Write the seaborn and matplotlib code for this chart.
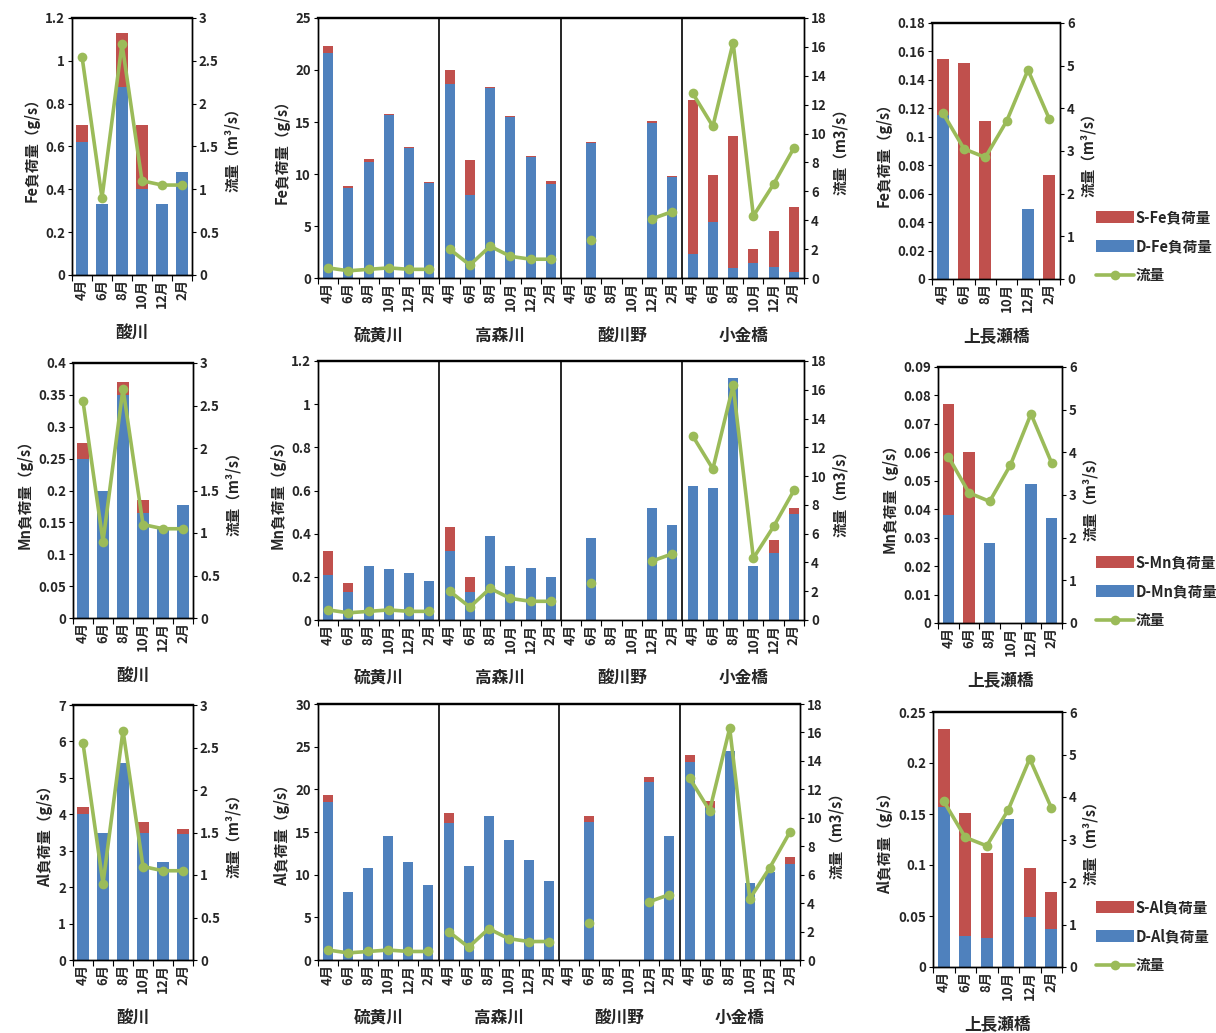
import numpy as np
import pandas as pd
import matplotlib
matplotlib.use("Agg")
import matplotlib.pyplot as plt
import seaborn as sns
from matplotlib.ticker import FuncFormatter
from matplotlib.patches import Patch
from matplotlib.lines import Line2D

sns.set_theme(style="white")
plt.rcParams['font.family'] = ['Noto Sans CJK JP', 'DejaVu Sans']
plt.rcParams['axes.unicode_minus'] = False

# ---------------- data ----------------
months = ["4月", "6月", "8月", "10月", "12月", "2月"]
mid_rivers = ["硫黄川", "高森川", "酸川野", "小金橋"]
left_site = "酸川"
right_site = "上長瀬橋"

nan = np.nan
q_sukawa = [2.55, 0.90, 2.70, 1.10, 1.05, 1.05]
q_mid = [0.7, 0.5, 0.6, 0.7, 0.6, 0.6,
         2.0, 0.9, 2.2, 1.5, 1.3, 1.3,
         nan, 2.6, nan, nan, 4.1, 4.6,
         12.8, 10.5, 16.3, 4.3, 6.5, 9.0]
q_kami = [3.9, 3.05, 2.85, 3.7, 4.9, 3.75]

fe_sukawa_d = [0.62, 0.33, 0.88, 0.40, 0.33, 0.48]
fe_sukawa_s = [0.08, 0.00, 0.25, 0.30, 0.00, 0.00]
fe_mid_d = [21.6, 8.7, 11.2, 15.7, 12.5, 9.1,
            18.7, 8.0, 18.3, 15.5, 11.6, 9.0,
            0.0, 13.0, 0.0, 0.0, 14.9, 9.7,
            2.3, 5.4, 1.0, 1.4, 1.1, 0.6]
fe_mid_s = [0.7, 0.1, 0.2, 0.1, 0.1, 0.1,
            1.3, 3.3, 0.1, 0.1, 0.1, 0.3,
            0.0, 0.1, 0.0, 0.0, 0.2, 0.1,
            14.8, 4.5, 12.7, 1.4, 3.4, 6.2]
fe_kami_d = [0.115, 0.0, 0.0, 0.0, 0.049, 0.0]
fe_kami_s = [0.040, 0.152, 0.111, 0.0, 0.0, 0.073]

mn_sukawa_d = [0.25, 0.20, 0.35, 0.165, 0.14, 0.177]
mn_sukawa_s = [0.025, 0.0, 0.02, 0.02, 0.0, 0.0]
mn_mid_d = [0.21, 0.13, 0.25, 0.235, 0.22, 0.18,
            0.32, 0.13, 0.39, 0.25, 0.24, 0.20,
            0.0, 0.38, 0.0, 0.0, 0.52, 0.44,
            0.62, 0.61, 1.12, 0.25, 0.31, 0.49]
mn_mid_s = [0.11, 0.04, 0.0, 0.0, 0.0, 0.0,
            0.11, 0.07, 0.0, 0.0, 0.0, 0.0,
            0.0, 0.0, 0.0, 0.0, 0.0, 0.0,
            0.0, 0.0, 0.0, 0.0, 0.06, 0.03]
mn_kami_d = [0.038, 0.0, 0.028, 0.0, 0.049, 0.037]
mn_kami_s = [0.039, 0.060, 0.0, 0.0, 0.0, 0.0]

al_sukawa_d = [4.0, 3.5, 5.4, 3.5, 2.7, 3.45]
al_sukawa_s = [0.2, 0.0, 0.0, 0.3, 0.0, 0.15]
al_mid_d = [18.5, 8.0, 10.8, 14.5, 11.5, 8.8,
            16.0, 11.0, 16.9, 14.1, 11.7, 9.2,
            0.0, 16.2, 0.0, 0.0, 20.9, 14.5,
            23.2, 17.8, 24.5, 9.0, 10.3, 11.2]
al_mid_s = [0.8, 0.0, 0.0, 0.0, 0.0, 0.0,
            1.2, 0.0, 0.0, 0.0, 0.0, 0.0,
            0.0, 0.7, 0.0, 0.0, 0.5, 0.0,
            0.8, 0.8, 0.0, 0.0, 0.0, 0.9]
al_kami_d = [0.157, 0.030, 0.028, 0.145, 0.049, 0.037]
al_kami_s = [0.076, 0.121, 0.084, 0.0, 0.048, 0.037]

BLUE = "#4F81BD"
RED = "#C0504D"
GREEN = "#9BBB59"

W, H = 1216, 1033
fig = plt.figure(figsize=(W / 100, H / 100), dpi=100)


def rect(x0, y0, x1, y1):
    return [x0 / W, 1 - y1 / H, (x1 - x0) / W, (y1 - y0) / H]


fmt = FuncFormatter(lambda v, p: f"{v:g}")
TICKFS = 9.5
LABFS = 10.5


def panel(r, d, s, q, ylim, ystep, y2lim, y2step, ylabel, y2label,
          width, groups, group_names):
    ax = fig.add_axes(rect(*r))
    n = len(d)
    x = np.arange(n)
    d = np.asarray(d, float)
    s = np.asarray(s, float)
    df = pd.DataFrame({"x": x, "total": d + s, "d": d})
    sns.barplot(data=df, x="x", y="total", native_scale=True, width=width,
                color=RED, saturation=1, errorbar=None, linewidth=0, ax=ax)
    sns.barplot(data=df, x="x", y="d", native_scale=True, width=width,
                color=BLUE, saturation=1, errorbar=None, linewidth=0, ax=ax)
    ax.set_xlim(-0.5, n - 0.5)
    ax.set_ylim(*ylim)
    ax.set_yticks(np.arange(ylim[0], ylim[1] + ystep * 0.01, ystep))
    ax.yaxis.set_major_formatter(fmt)
    ax.set_xticks(x)
    ax.set_xticklabels(months * (n // 6), rotation=90, fontsize=TICKFS,
                       fontweight="bold")
    ax.set_xticks(np.arange(-0.5, n, 1.0), minor=True)
    ax.tick_params(axis="x", which="major", length=0, pad=3)
    ax.tick_params(axis="x", which="minor", length=4, width=0.8,
                   direction="out", bottom=True, color="black")
    ax.tick_params(axis="y", length=3, width=0.8, direction="out",
                   left=True, color="black", labelsize=TICKFS, pad=2)
    for lab in ax.get_yticklabels():
        lab.set_fontweight("bold")
    ax.set_xlabel("")
    ax.set_ylabel(ylabel, fontsize=LABFS, fontweight="bold", labelpad=4)
    for sp in ax.spines.values():
        sp.set_color("black")
        sp.set_linewidth(1.0)
    ax.spines["top"].set_linewidth(1.6)
    for g in range(1, groups):
        ax.axvline(g * 6 - 0.5, color="black", lw=1.2)
    for g, name in enumerate(group_names):
        ax.annotate(name, xy=(g * 6 + 2.5, 0), xycoords=("data", "axes fraction"),
                    xytext=(0, -58 * 0.72), textcoords="offset points",
                    ha="center", va="center", fontsize=12, fontweight="bold")

    ax2 = ax.twinx()
    q = np.asarray(q, float)
    # draw each contiguous run of flow values (within one group) as a line
    for g in range(groups):
        seg_x, seg_y = [], []
        for i in range(g * 6, g * 6 + 6):
            if np.isnan(q[i]):
                if seg_x:
                    sns.lineplot(x=seg_x, y=seg_y, ax=ax2, color=GREEN,
                                 marker="o", markersize=7, linewidth=2.6,
                                 markeredgewidth=0)
                seg_x, seg_y = [], []
            else:
                seg_x.append(x[i]); seg_y.append(q[i])
        if seg_x:
            sns.lineplot(x=seg_x, y=seg_y, ax=ax2, color=GREEN,
                         marker="o", markersize=7, linewidth=2.6,
                         markeredgewidth=0)
    ax2.set_xlim(-0.5, n - 0.5)
    ax2.set_ylim(*y2lim)
    ax2.set_yticks(np.arange(y2lim[0], y2lim[1] + y2step * 0.01, y2step))
    ax2.yaxis.set_major_formatter(fmt)
    ax2.tick_params(axis="y", length=3, width=0.8, direction="out",
                    right=True, color="black", labelsize=TICKFS, pad=2)
    for lab in ax2.get_yticklabels():
        lab.set_fontweight("bold")
    ax2.set_ylabel(y2label, fontsize=LABFS, fontweight="bold", labelpad=4)
    ax2.set_xlabel("")
    for sp in ax2.spines.values():
        sp.set_color("black")
        sp.set_linewidth(1.0)
    ax2.spines["top"].set_linewidth(1.6)
    return ax


def legend(y_top, elem):
    handles = [Patch(facecolor=RED, edgecolor="none"),
               Patch(facecolor=BLUE, edgecolor="none"),
               Line2D([0], [0], color=GREEN, lw=2.6, marker="o", markersize=7,
                      markeredgewidth=0)]
    labels = [f"S-{elem}負荷量", f"D-{elem}負荷量", "流量"]
    fig.legend(handles, labels, loc="upper left",
               bbox_to_anchor=(1090 / W, 1 - y_top / H), frameon=False,
               prop={"size": 10.5, "weight": "bold"}, handlelength=2.6,
               handleheight=0.9, labelspacing=0.9, handletextpad=0.1,
               borderaxespad=0)


LQ = "流量（m³/s）"
MQ = "流量（m3/s）"

rows = [
    dict(elem="Fe",
         left=(fe_sukawa_d, fe_sukawa_s, (0, 1.2), 0.2, (72, 18, 192, 275)),
         mid=(fe_mid_d, fe_mid_s, (0, 25), 5, (318, 18, 804, 278)),
         right=(fe_kami_d, fe_kami_s, (0, 0.18), 0.02, (932, 23, 1060, 279)),
         leg=203),
    dict(elem="Mn",
         left=(mn_sukawa_d, mn_sukawa_s, (0, 0.4), 0.05, (73, 363, 193, 618)),
         mid=(mn_mid_d, mn_mid_s, (0, 1.2), 0.2, (318, 361, 804, 620)),
         right=(mn_kami_d, mn_kami_s, (0, 0.09), 0.01, (938, 367, 1062, 623)),
         leg=548),
    dict(elem="Al",
         left=(al_sukawa_d, al_sukawa_s, (0, 7), 1, (73, 705, 193, 960)),
         mid=(al_mid_d, al_mid_s, (0, 30), 5, (318, 704, 800, 960)),
         right=(al_kami_d, al_kami_s, (0, 0.25), 0.05, (933, 712, 1062, 967)),
         leg=893),
]

for row in rows:
    e = row["elem"]
    yl = f"{e}負荷量（g/s）"
    d, s, yr, ys, r = row["left"]
    panel(r, d, s, q_sukawa, yr, ys, (0, 3), 0.5, yl, LQ, 0.62, 1, [left_site])
    d, s, yr, ys, r = row["mid"]
    panel(r, d, s, q_mid, yr, ys, (0, 18), 2, yl, MQ, 0.5, 4, mid_rivers)
    d, s, yr, ys, r = row["right"]
    panel(r, d, s, q_kami, yr, ys, (0, 6), 1, yl, LQ, 0.55, 1, [right_site])
    legend(row["leg"], e)

fig.savefig("out.png", dpi=100, facecolor="white")
